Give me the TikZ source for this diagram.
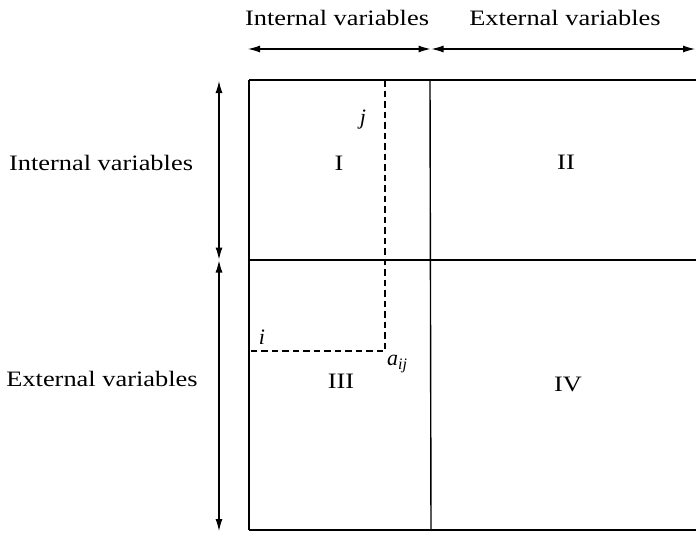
\documentclass[tikz,border=0pt]{standalone}
\usepackage{fontspec}
\usepackage{graphicx}
\setmainfont{Liberation Serif}
\usetikzlibrary{arrows.meta}
\newcommand\wtext[1]{\scalebox{1.2}[1]{#1}}
\begin{document}
\begin{tikzpicture}[x=1pt,y=-1pt,
  lbl/.style={font=\fontsize{22}{26}\selectfont, inner sep=0pt},
  mlbl/.style={font=\fontsize{22}{26}\selectfont\itshape, inner sep=0pt},
  boxline/.style={line width=1.4pt},
  dashline/.style={line width=1.2pt, dash pattern=on 6.5pt off 4pt},
  dblarrow/.style={{Latex[length=12pt,width=7pt]}-{Latex[length=12pt,width=7pt]}, line width=1.1pt}]
\useasboundingbox (0,0) rectangle (696,533);
% grid corners
\coordinate (TL) at (249,80);
\coordinate (TM) at (430,80);
\coordinate (TR) at (696,80);
\coordinate (ML) at (249,260);
\coordinate (MR) at (696,260);
\coordinate (BL) at (249,530);
\coordinate (BM) at (431,530);
\coordinate (BR) at (696,530);
\draw[boxline] (TL) -- (TR);
\draw[boxline] (ML) -- (MR);
\draw[boxline] (BL) -- (BR);
\draw[boxline] (TL) -- (BL);
\draw[boxline] (TM) -- (BM);
% dashed element lines
\coordinate (D1) at (385,80);
\coordinate (D2) at (385,351);
\coordinate (D3) at (249,351);
\draw[dashline] (D1) -- (D2) -- (D3);
% arrows
\coordinate (A1) at (248,49);
\coordinate (A2) at (430.5,49);
\coordinate (A3) at (431.5,49);
\coordinate (A4) at (695,49);
\draw[dblarrow] (A1) -- (A2);
\draw[dblarrow] (A3) -- (A4);
\coordinate (V1) at (219,81);
\coordinate (V2) at (219,259.5);
\coordinate (V3) at (219,260.5);
\coordinate (V4) at (219,531);
\draw[dblarrow] (V1) -- (V2);
\draw[dblarrow] (V3) -- (V4);
% labels
\node[lbl] (tint) at (337,18) {\wtext{Internal variables}};
\node[lbl] (text) at (565,18) {\wtext{External variables}};
\node[lbl] (lint) at (101,163) {\wtext{Internal variables}};
\node[lbl] (lext) at (102,379) {\wtext{External variables}};
\node[lbl] (q1) at (339,163) {\wtext{I}};
\node[lbl] (q2) at (566,162) {\wtext{II}};
\node[lbl] (q3) at (341,381) {\wtext{III}};
\node[lbl] (q4) at (568,384) {\wtext{IV}};
\node[mlbl] (lj) at (363,120) {j};
\node[mlbl] (li) at (262,337) {i};
\node[mlbl, anchor=base west] (la) at (387,365) {a\raisebox{-4pt}{\fontsize{16}{16}\selectfont ij}};
\end{tikzpicture}
\end{document}
